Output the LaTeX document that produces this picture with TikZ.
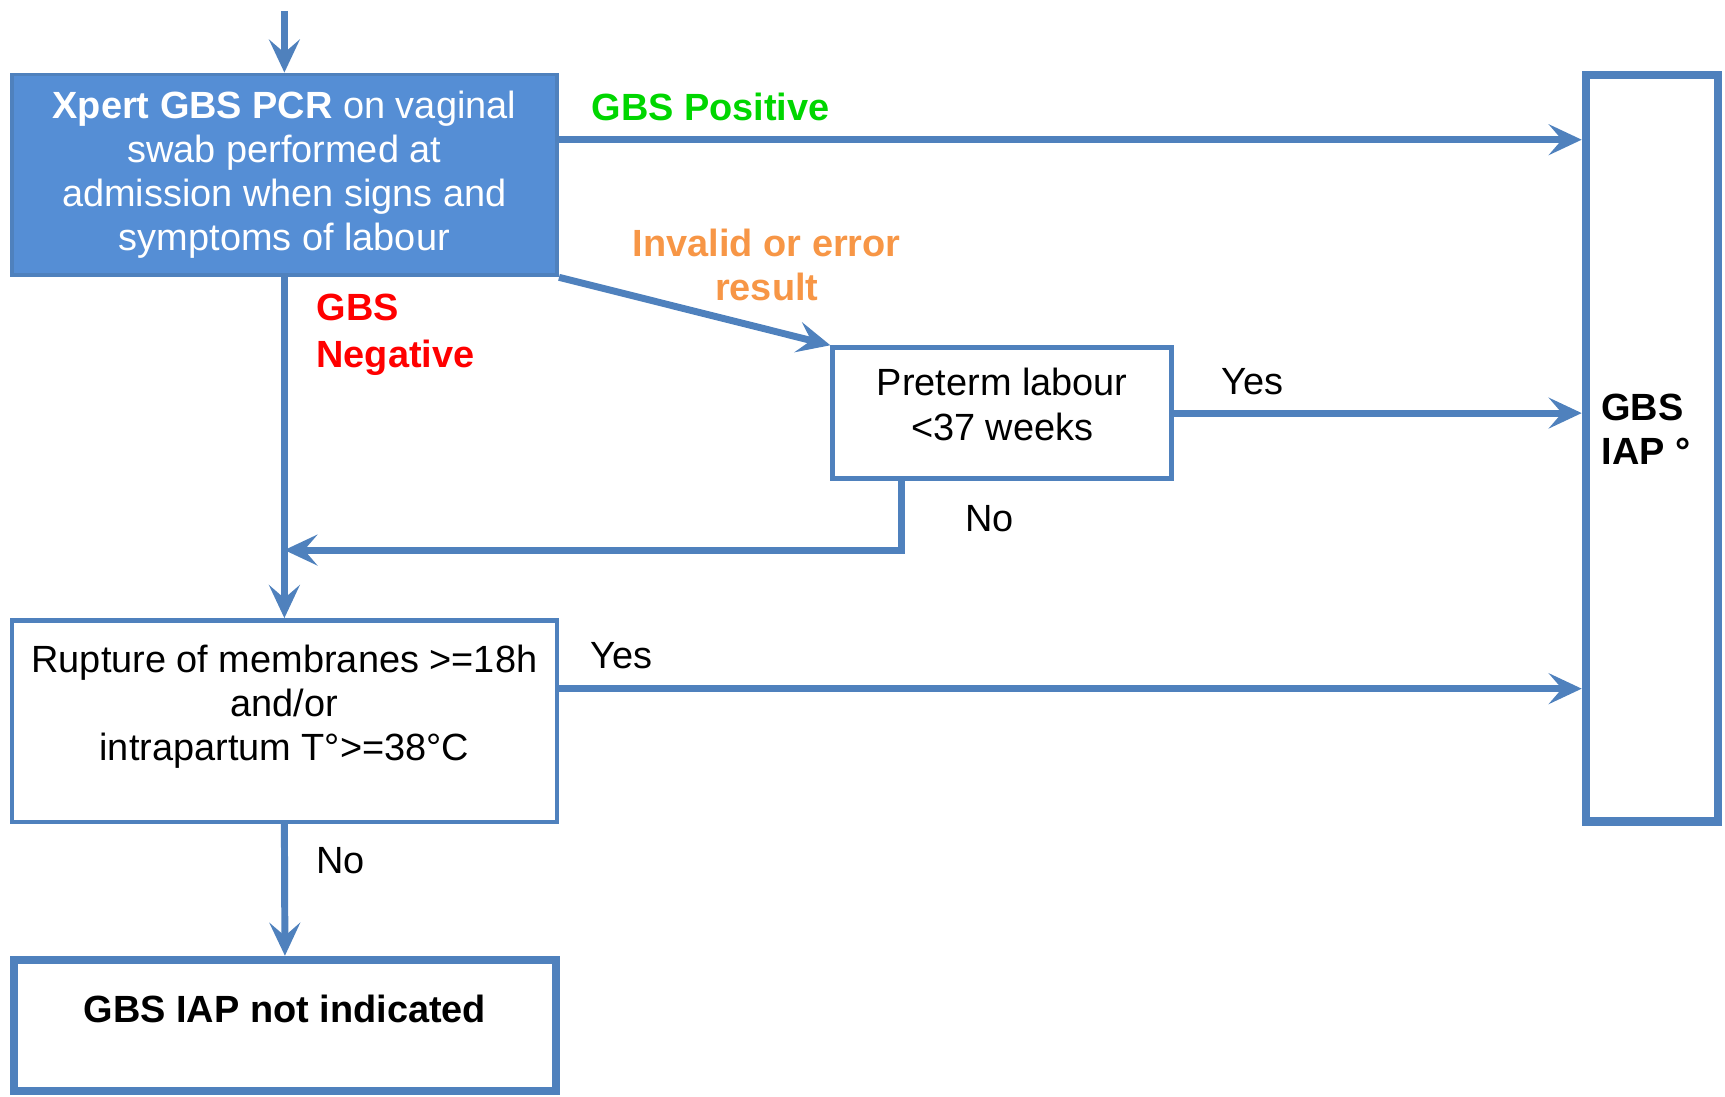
\documentclass[tikz,border=0pt]{standalone}
\usepackage{fontspec}
\setmainfont{Liberation Sans}
\usetikzlibrary{arrows.meta}
\definecolor{FlowClr}{RGB}{79,129,189}
\definecolor{BoxClr}{RGB}{85,142,213}
\definecolor{PosClr}{RGB}{0,214,0}
\definecolor{NegClr}{RGB}{255,0,0}
\definecolor{InvClr}{RGB}{247,150,70}

\tikzset{
  txt/.style={font=\fontsize{9.8}{11.4}\selectfont},
  box/.style={txt,draw=FlowClr,line width=1.2pt,align=center,inner sep=0pt},
  endbox/.style={box,line width=2.1pt,font=\fontsize{9.8}{11.4}\selectfont\bfseries},
  flow/.style={draw=FlowClr,line width=1.8pt,-{Stealth[length=3mm,width=2.8mm,inset=1.2mm]}},
  lbl/.style={txt,inner sep=0pt,align=left,anchor=west},
}

\begin{document}
\begin{tikzpicture}[x=0.01cm,y=-0.01cm]
\useasboundingbox (0,0) rectangle (1568,997);

\node[box,fill=BoxClr,text=white,line width=1pt,minimum width=4.955cm,minimum height=1.825cm] (xpert) at (258.5,159)
  {\textbf{Xpert GBS PCR} on vaginal\\swab performed at\\admission when signs and\\symptoms of labour};
\node[box,minimum width=3.08cm,minimum height=1.19cm] (preterm) at (911,375.5)
  {Preterm labour\\<37 weeks\\[-0.24cm]{}};
\node[box,minimum width=4.95cm,minimum height=1.83cm] (rupture) at (258.5,655.5)
  {Rupture of membranes >=18h\\and/or\\intrapartum T°>=38°C\\[-0.06cm]{}};
\node[endbox,minimum width=4.93cm,minimum height=1.19cm] (noiap) at (259,932)
  {GBS IAP not indicated\\[-0.1cm]{}};
\node[endbox,minimum width=1.2cm,minimum height=6.78cm] (iap) at (1501.5,407.5) {};
\node[lbl,font=\fontsize{9.8}{11.4}\selectfont\bfseries] (iaptxt) at (1455,390) {GBS\\IAP °};

\coordinate (entry) at (258.5,10);

\node[lbl,font=\fontsize{9.8}{11.4}\selectfont\bfseries,text=PosClr] (lblpos) at (537,97) {GBS Positive};
\node[lbl,font=\fontsize{9.8}{11.4}\selectfont\bfseries,text=InvClr,align=center,anchor=center] (lblinv) at (697,241) {Invalid or error\\result};
\node[lbl,font=\fontsize{9.8}{12.2}\selectfont\bfseries,text=NegClr] (lblneg) at (287,304) {GBS\\Negative};
\node[lbl] (lblyes1) at (1110,347) {Yes};
\node[lbl] (lblno1) at (877,471) {No};
\node[lbl] (lblyes2) at (536,596) {Yes};
\node[lbl] (lblno2) at (287,782) {No};

\draw[flow] (entry) -- (xpert.north);
\draw[flow] (xpert.east |- 0,127) -- (iap.west |- 0,127);
\draw[flow] (xpert.south east) -- (preterm.north west);
\draw[flow] (preterm.east) -- (iap.west |- preterm.east);
\draw[flow] ([xshift=0.65cm]preterm.south west) |- (xpert.south |- 0,500);
\draw[flow] (xpert.south) -- (rupture.north);
\draw[flow] (rupture.east |- 0,626) -- (iap.west |- 0,626);
\draw[flow] (rupture.south) -- (noiap.north);

\end{tikzpicture}
\end{document}
